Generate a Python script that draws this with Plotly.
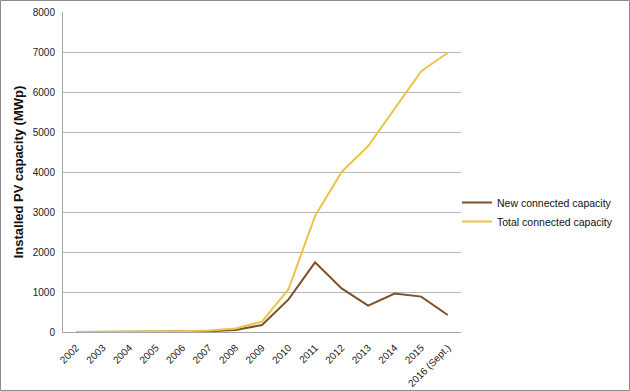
import plotly.graph_objects as go

years = ["2002", "2003", "2004", "2005", "2006", "2007", "2008", "2009",
         "2010", "2011", "2012", "2013", "2014", "2015", "2016 (Sept.)"]
new_capacity = [1, 1, 2, 3, 12, 20, 50, 175, 815, 1740, 1090, 660, 960, 885, 425]
total_capacity = [1, 2, 4, 6, 20, 40, 90, 260, 1070, 2900, 4000, 4650, 5600, 6520, 6980]

W, H = 630, 391
L, R, T, B = 63, 169, 12, 59
pw, ph = W - L - R, H - T - B

fig = go.Figure()
fig.add_trace(go.Scatter(x=years, y=new_capacity, mode="lines",
                         name="New connected capacity",
                         line=dict(color="#7E5127", width=2)))
fig.add_trace(go.Scatter(x=years, y=total_capacity, mode="lines",
                         name="Total connected capacity",
                         line=dict(color="#EBC44A", width=2)))

fig.update_layout(
    width=W, height=H,
    margin=dict(l=L, r=R, t=T, b=B, autoexpand=False),
    paper_bgcolor="white", plot_bgcolor="white",
    font=dict(family="Liberation Sans, Arial, sans-serif", size=10, color="#222"),
    showlegend=True,
    legend=dict(x=0.99, y=0.375, xanchor="left", yanchor="middle",
                font=dict(size=10.5, color="#111"), itemwidth=30,
                tracegroupgap=0, bgcolor="rgba(0,0,0,0)"),
    xaxis=dict(type="category", tickangle=-45, showgrid=False,
               range=[-0.5, len(years) - 0.5], automargin=False,
               showline=True, linecolor="#A6A6A6", linewidth=1,
               ticks="", tickfont=dict(size=10), ticklabelstandoff=5),
    yaxis=dict(range=[0, 8000], dtick=1000, showgrid=True, automargin=False,
               gridcolor="#B5B5B5", gridwidth=1,
               showline=True, linecolor="#A6A6A6", linewidth=1,
               zeroline=False, ticks="", tickfont=dict(size=10),
               ticklabelstandoff=5,
               title=dict(text="<b>Installed PV capacity (MWp)</b>",
                          font=dict(size=13, color="#111"), standoff=6)),
)

# outer grey border around the picture
fig.add_shape(type="rect", xref="paper", yref="paper",
              x0=(0.5 - L) / pw, x1=(W - 0.5 - L) / pw,
              y0=-(B - 0.5) / ph, y1=1 + (T - 0.5) / ph,
              line=dict(color="#8C8C8C", width=1), layer="below")

fig.write_html("out.html", config={"displayModeBar": False},
               post_script="document.body.style.margin='0';document.body.style.overflow='hidden';")
